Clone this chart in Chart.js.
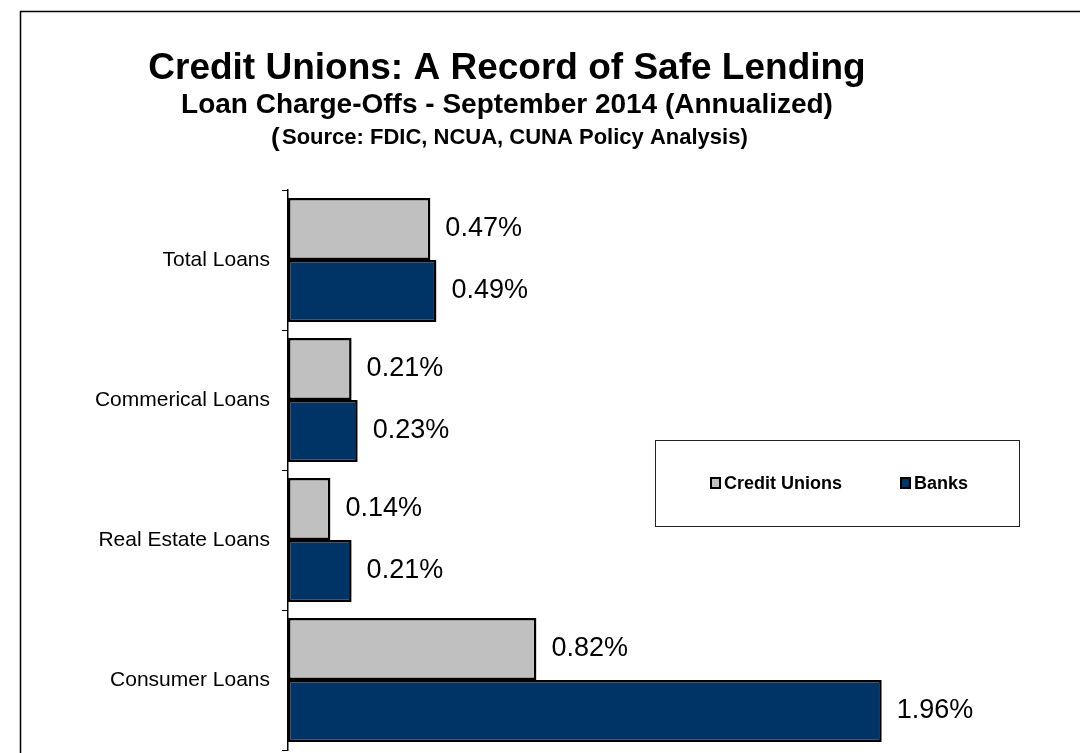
<!DOCTYPE html>
<html>
<head>
<meta charset="utf-8">
<script src="https://cdn.jsdelivr.net/npm/chart.js@4"></script>
<style>
  html, body { margin: 0; padding: 0; background: #fff; }
  #wrap { width: 1080px; height: 753px; }
</style>
</head>
<body>
<div id="wrap"><canvas id="myChart" width="1080" height="753"></canvas></div>
<script>
var categories = ['Total Loans', 'Commerical Loans', 'Real Estate Loans', 'Consumer Loans'];
var creditUnions = [0.47, 0.21, 0.14, 0.82];
var banks = [0.49, 0.23, 0.21, 1.96];
var seriesNames = ['Credit Unions', 'Banks'];

var FONT = '"Liberation Sans", Arial, sans-serif';

// frame, titles, legend box and value labels
var decor = {
    id: 'decor',
    afterDatasetsDraw: function (chart) {
        var ctx = chart.ctx;
        ctx.save();
        ctx.fillStyle = '#000';
        ctx.textBaseline = 'middle';
        ctx.font = '27px ' + FONT;
        ctx.textAlign = 'left';
        chart.data.datasets.forEach(function (ds, i) {
            chart.getDatasetMeta(i).data.forEach(function (bar, j) {
                ctx.fillText(ds.data[j].toFixed(2) + '%', bar.x + 15, bar.y);
            });
        });
        ctx.restore();
    },
    afterDraw: function (chart) {
        var ctx = chart.ctx;
        ctx.save();
        // outer frame
        ctx.strokeStyle = '#000';
        ctx.lineWidth = 1.5;
        ctx.beginPath();
        ctx.moveTo(20.5, 760);
        ctx.lineTo(20.5, 11.5);
        ctx.lineTo(1090, 11.5);
        ctx.stroke();

        // titles
        ctx.fillStyle = '#000';
        ctx.textAlign = 'center';
        ctx.textBaseline = 'alphabetic';
        ctx.font = 'bold 37px ' + FONT;
        ctx.fillText('Credit Unions: A Record of Safe Lending', 507, 79);
        ctx.font = 'bold 28px ' + FONT;
        ctx.fillText('Loan Charge-Offs - September 2014 (Annualized)', 507, 113);
        ctx.textAlign = 'left';
        ctx.font = 'bold 22px ' + FONT;
        ctx.fillText('Source: FDIC, NCUA, CUNA Policy Analysis)', 282, 144);
        ctx.font = 'bold 26px ' + FONT;
        ctx.fillText('(', 271, 146);

        // legend
        ctx.strokeStyle = '#222';
        ctx.lineWidth = 1;
        ctx.strokeRect(655.5, 440.5, 364, 86);
        var xs = [711, 901];
        ctx.font = 'bold 18px ' + FONT;
        ctx.textBaseline = 'middle';
        chart.data.datasets.forEach(function (ds, i) {
            ctx.fillStyle = ds.backgroundColor;
            ctx.fillRect(xs[i], 478, 9, 10);
            ctx.strokeStyle = '#000';
            ctx.lineWidth = 2;
            ctx.strokeRect(xs[i], 478, 9, 10);
            ctx.fillStyle = '#000';
            ctx.fillText(ds.label, xs[i] + 13, 484);
        });
        ctx.restore();
    }
};

var data = {
    labels: categories,
    datasets: [
        {
            label: seriesNames[0],
            data: creditUnions,
            backgroundColor: '#C0C0C0',
            borderColor: '#000',
            borderWidth: 2.5,
            borderSkipped: false,
            categoryPercentage: 0.886,
            barPercentage: 1
        },
        {
            label: seriesNames[1],
            data: banks,
            backgroundColor: '#003366',
            borderColor: '#000',
            borderWidth: 2.5,
            borderSkipped: false,
            categoryPercentage: 0.886,
            barPercentage: 1
        }
    ]
};

var config = {
    type: 'bar',
    data: data,
    plugins: [decor],
    options: {
        indexAxis: 'y',
        responsive: false,
        animation: false,
        layout: { padding: { top: 190, bottom: 3, left: 0, right: 65 } },
        plugins: {
            legend: { display: false },
            tooltip: { enabled: false }
        },
        scales: {
            x: {
                display: false,
                min: 0,
                max: 2.4
            },
            y: {
                afterFit: function (scale) {
                    scale.width = 288;
                    scale.paddingTop = 0;
                    scale.paddingBottom = 0;
                },
                grid: {
                    offset: true,
                    drawOnChartArea: false,
                    tickLength: 6,
                    color: '#000'
                },
                border: { display: true, color: '#000', width: 1.5 },
                ticks: {
                    color: '#000',
                    padding: 12,
                    font: { family: FONT, size: 21 }
                }
            }
        }
    }
};

var myChart = new Chart(document.getElementById('myChart').getContext('2d'), config);
</script>
</body>
</html>
